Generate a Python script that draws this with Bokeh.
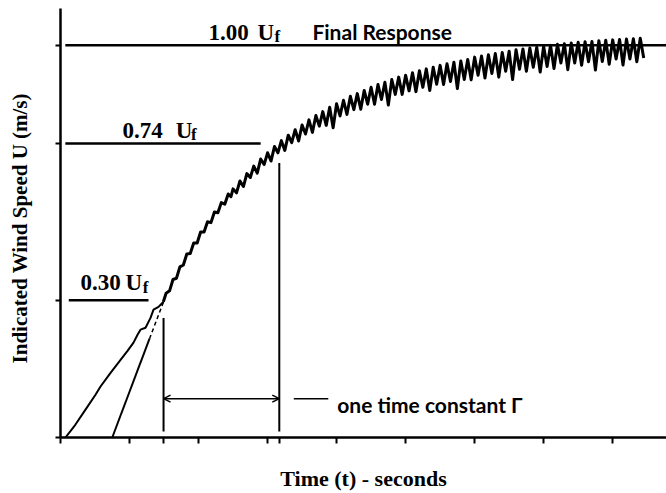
from bokeh.plotting import figure
from bokeh.models import Range1d, FixedTicker, Arrow, OpenHead, CustomJSTickFormatter
from bokeh.core.properties import value
from bokeh.embed import file_html
from bokeh.resources import INLINE

# ---------------- data ----------------
# x: time, ticks every 10 units; y: indicated speed in % of final response U_f
X_TICKS = [0, 10, 14.93, 20, 30, 31.7, 40, 50, 60, 70, 80]
Y_TICKS = [0, 35, 75, 100]

# early wiggly response that joins the main trace
LEAD_X = [0.72, 2.17, 3.62, 5.07, 5.80, 7.25, 8.70, 9.71, 10.58, 11.16, 11.59, 12.32, 13.04, 13.48, 14.20, 14.93]
LEAD_Y = [0.0, 3.3, 7.1, 10.9, 13.0, 16.5, 19.8, 22.1, 24.2, 26.2, 27.5, 28.0, 30.5, 32.6, 33.3, 34.6]

# straight ramp (solid part, then dashed extrapolation)
RAMP_X = [7.5, 12.9]
RAMP_Y = [0.0, 25.2]
RAMP_DASH_X = [12.9, 14.93]
RAMP_DASH_Y = [25.2, 34.6]

# main recorded trace
TRACE_X = [14.9, 15.3, 15.8, 16.3, 16.8, 17.3, 17.8, 18.3, 18.8, 19.3, 19.8, 20.3, 20.8, 21.3, 21.8,
           22.3, 22.8, 23.3, 23.8, 24.3, 24.7,
           25.0, 25.5, 26.0, 26.5, 27.0, 27.5, 28.0, 28.5, 29.0, 29.5, 30.0, 30.5, 31.0, 31.5,
           32.0, 32.5, 33.0, 33.5, 34.0, 34.5, 35.0, 35.5, 36.0, 36.5, 37.0, 37.5, 38.0, 38.5,
           39.0, 39.5, 40.0, 40.5, 41.0, 41.5, 42.0, 42.5, 43.0, 43.5, 44.0, 44.5, 45.0, 45.5,
           46.0, 46.5, 47.0, 47.5, 48.0, 48.5, 49.0, 49.5, 50.0, 50.5, 51.0, 51.5, 52.0, 52.5,
           53.0, 53.5, 54.0, 54.5, 55.0, 55.5, 56.0, 56.5, 57.0, 57.5, 58.0, 58.5, 59.0, 59.5,
           60.0, 60.5, 61.0, 61.5, 62.0, 62.5, 63.0, 63.5, 64.0, 64.5, 65.0, 65.5, 66.0, 66.5,
           67.0, 67.5, 68.0, 68.5, 69.0, 69.5, 70.0, 70.5, 71.0, 71.5, 72.0, 72.5, 73.0, 73.5,
           74.0, 74.5, 75.0, 75.5, 76.0, 76.5, 77.0, 77.5, 78.0, 78.5, 79.0, 79.5, 80.0, 80.5,
           81.0, 81.5, 82.0, 82.5, 83.0, 83.5, 84.0, 84.5]
TRACE_Y = [34.6, 36.8, 37.4, 40.3, 40.6, 43.5, 44.0, 46.8, 46.9, 49.6, 49.6, 52.4, 52.4, 55.0, 54.8,
           57.5, 57.3, 59.9, 59.5, 62.1, 61.4,
           63.4, 62.4, 65.4, 64.0, 67.3, 66.3, 69.2, 67.4, 71.0, 69.6, 72.6, 70.5, 74.2, 72.6,
           75.7, 73.2, 77.1, 75.2, 78.5, 75.6, 79.7, 77.4, 81.0, 77.8, 82.1, 79.4, 83.1, 79.6,
           84.2, 79.0, 85.1, 82.0, 86.0, 82.4, 87.0, 83.6, 87.7, 83.7, 88.5, 85.0, 89.3, 85.0,
           90.0, 86.2, 90.6, 84.8, 91.3, 87.5, 91.9, 87.5, 92.4, 88.4, 93.0, 88.2, 93.5, 89.3,
           94.0, 88.5, 94.4, 90.1, 94.9, 90.0, 95.3, 90.8, 95.7, 89.0, 96.0, 91.3, 96.4, 91.2,
           97.0, 92.4, 97.3, 91.7, 97.6, 92.8, 97.9, 91.9, 98.2, 93.4, 98.5, 91.3, 98.9, 93.9,
           99.1, 93.4, 99.3, 94.4, 99.5, 93.2, 99.8, 94.6, 100.0, 94.1, 100.3, 95.5, 100.4, 93.8,
           100.6, 95.5, 100.8, 94.9, 100.9, 95.8, 101.0, 93.7, 101.2, 95.9, 101.3, 95.2, 101.4, 96.5,
           101.5, 95.0, 101.6, 96.5, 101.7, 95.8, 101.8, 96.8]

# reference levels (1.00, 0.74, 0.30 U_f as drawn)
LEVEL_Y = [100.0, 75.0, 35.0]
LEVEL_X0 = [0.7, 0.7, 1.2]
LEVEL_X1 = [87.8, 29.0, 12.75]

# time-constant markers
TAU_X = [14.93, 31.7]
TAU_TOP = [30.5, 70.0]
TAU_BOTTOM = [1.5, 1.5]
ARROW_Y = 9.9
LEADER_X = [33.8, 38.8]
LEADER_Y = [9.9, 9.9]

# annotation texts
NUM_TEXT = ["1.00", "U", "0.74", "U", "0.30", "U"]
NUM_X = [21.45, 28.55, 9.0, 16.7, 2.9, 9.4]
NUM_Y = [103.3, 103.3, 78.4, 78.4, 39.4, 39.4]
SUB_TEXT = ["f", "f", "f"]
SUB_X = [31.0, 18.9, 11.9]
SUB_Y = [102.2, 77.3, 38.3]
NOTE_TEXT = ["Final Response", "one time constant \u0393"]
NOTE_X = [36.5, 40.1]
NOTE_Y = [103.6, 8.4]

# ---------------- figure ----------------
p = figure(width=666, height=493, x_range=Range1d(0, 87.8), y_range=Range1d(0, 109.4),
           output_backend="svg", toolbar_location=None,
           min_border_left=60, min_border_right=0, min_border_top=8, min_border_bottom=55)
p.outline_line_color = None
p.grid.visible = False
p.background_fill_color = "white"
p.border_fill_color = "white"

for ax, ticks in ((p.xaxis[0], X_TICKS), (p.yaxis[0], Y_TICKS)):
    ax.ticker = FixedTicker(ticks=ticks)
    ax.formatter = CustomJSTickFormatter(code="return ''")
    ax.major_label_standoff = 0
    ax.major_tick_in = 0
    ax.minor_tick_in = 0
    ax.minor_tick_out = 0
    ax.axis_line_width = 2.5
    ax.axis_line_color = "black"
    ax.major_tick_line_width = 2
    ax.major_tick_line_color = "black"
    ax.axis_label_text_font = "Liberation Serif"
    ax.axis_label_text_font_style = "bold"
    ax.axis_label_text_color = "black"

p.xaxis[0].major_tick_out = 6
p.yaxis[0].major_tick_out = 5
p.xaxis[0].axis_label = "Time (t) - seconds"
p.xaxis[0].axis_label_text_font_size = "22px"
p.xaxis[0].axis_label_standoff = 22
p.yaxis[0].axis_label = "Indicated Wind Speed  U  (m/s)"
p.yaxis[0].axis_label_text_font_size = "21px"
p.yaxis[0].axis_label_standoff = 24

# reference levels
p.segment(x0=LEVEL_X0, y0=LEVEL_Y, x1=LEVEL_X1, y1=LEVEL_Y, line_color="black", line_width=2.5)

# vertical markers
p.segment(x0=TAU_X, y0=TAU_BOTTOM, x1=TAU_X, y1=TAU_TOP, line_color="black", line_width=2)

# arrow between markers
p.add_layout(Arrow(start=OpenHead(size=7, line_width=1.5), end=OpenHead(size=7, line_width=1.5),
                   x_start=TAU_X[0], y_start=ARROW_Y, x_end=TAU_X[1], y_end=ARROW_Y,
                   line_width=1.5, line_color="black"))
p.line(LEADER_X, LEADER_Y, line_color="black", line_width=1.5)

# curves
p.line(LEAD_X, LEAD_Y, line_color="black", line_width=2)
p.line(RAMP_X, RAMP_Y, line_color="black", line_width=2)
p.line(RAMP_DASH_X, RAMP_DASH_Y, line_color="black", line_width=1.5, line_dash="4 3")
p.line(TRACE_X, TRACE_Y, line_color="black", line_width=3, line_join="round")

# texts
p.text(x=NUM_X, y=NUM_Y, text=NUM_TEXT, text_font=value("Liberation Serif"), text_font_size="23px",
       text_font_style="bold", text_align="left", text_baseline="alphabetic", text_color="black")
p.text(x=SUB_X, y=SUB_Y, text=SUB_TEXT, text_font=value("Liberation Serif"), text_font_size="17px",
       text_font_style="bold", text_align="left", text_baseline="alphabetic", text_color="black")
p.text(x=NOTE_X, y=NOTE_Y, text=NOTE_TEXT, text_font=value("Lato"), text_font_size="21px",
       text_font_style="bold", text_align="left", text_baseline="alphabetic", text_color="black")

open("out.html", "w").write(file_html(p, INLINE))
